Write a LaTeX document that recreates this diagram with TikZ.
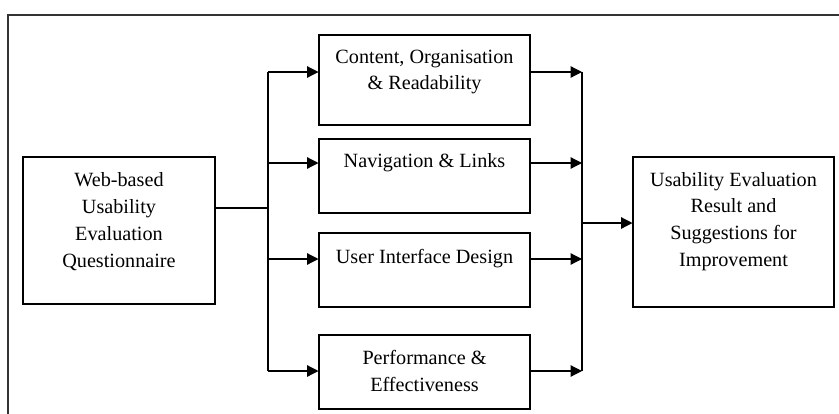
\documentclass[tikz,border=0pt]{standalone}
\usepackage{fontspec}
\setmainfont{Liberation Serif}
\usetikzlibrary{arrows.meta}

\begin{document}
\begin{tikzpicture}[x=0.02cm,y=-0.02cm,
  box/.style={draw,line width=0.6pt,inner sep=0pt},
  lbl/.style={align=center,inner sep=0pt,font=\fontsize{11.5}{15.3}\selectfont},
  arr/.style={line width=0.7pt,-{Triangle[length=6.5pt,width=6.5pt]}},
  bus/.style={line width=1.1pt}]
\useasboundingbox (0,0) rectangle (839,413);
\draw[line width=0.6pt,black!80] (8,420) -- (8,15) -- (845,15);
{
\node[box,minimum width=3.84cm,minimum height=2.94cm] (inq) at (119,230.5) {};
\node[lbl] (inqT) at (119,221.5) {Web-based\\Usability\\Evaluation\\Questionnaire};
\node[box,minimum width=4.22cm,minimum height=1.8cm] (content) at (424.5,80) {};
\node[lbl] (contentT) at (424.5,72) {Content, Organisation\\\& Readability};
\node[box,minimum width=4.22cm,minimum height=1.48cm] (nav) at (424.5,176) {};
\node[lbl] (navT) at (424.5,163) {Navigation \& Links};
\node[box,minimum width=4.22cm,minimum height=1.48cm] (ui) at (424.5,270) {};
\node[lbl] (uiT) at (424.5,259) {User Interface Design};
\node[box,minimum width=4.22cm,minimum height=1.48cm] (perf) at (424.5,372) {};
\node[lbl] (perfT) at (424.5,371) {Performance \&\\Effectiveness};
\node[box,minimum width=4.02cm,minimum height=3.0cm] (result) at (733.5,232) {};
\node[lbl] (resultT) at (733.5,221.5) {Usability Evaluation\\Result and\\Suggestions for\\Improvement};
\coordinate (split) at (268,208);
\coordinate (merge) at (582,223);
\draw[line width=0.7pt] (inq.east |- split) -- (split);
\draw[bus] (split |- contentT) -- (split |- perfT);
\draw[bus] (merge |- contentT) -- (merge |- perfT);
\foreach \t/\b in {contentT/content,navT/nav,uiT/ui,perfT/perf}{
\draw[arr] (split |- \t) -- (\b.west |- \t);
\draw[arr] (\b.east |- \t) -- (merge |- \t);
}
\draw[arr] (merge) -- (result.west |- merge);
}
\end{tikzpicture}
\end{document}
